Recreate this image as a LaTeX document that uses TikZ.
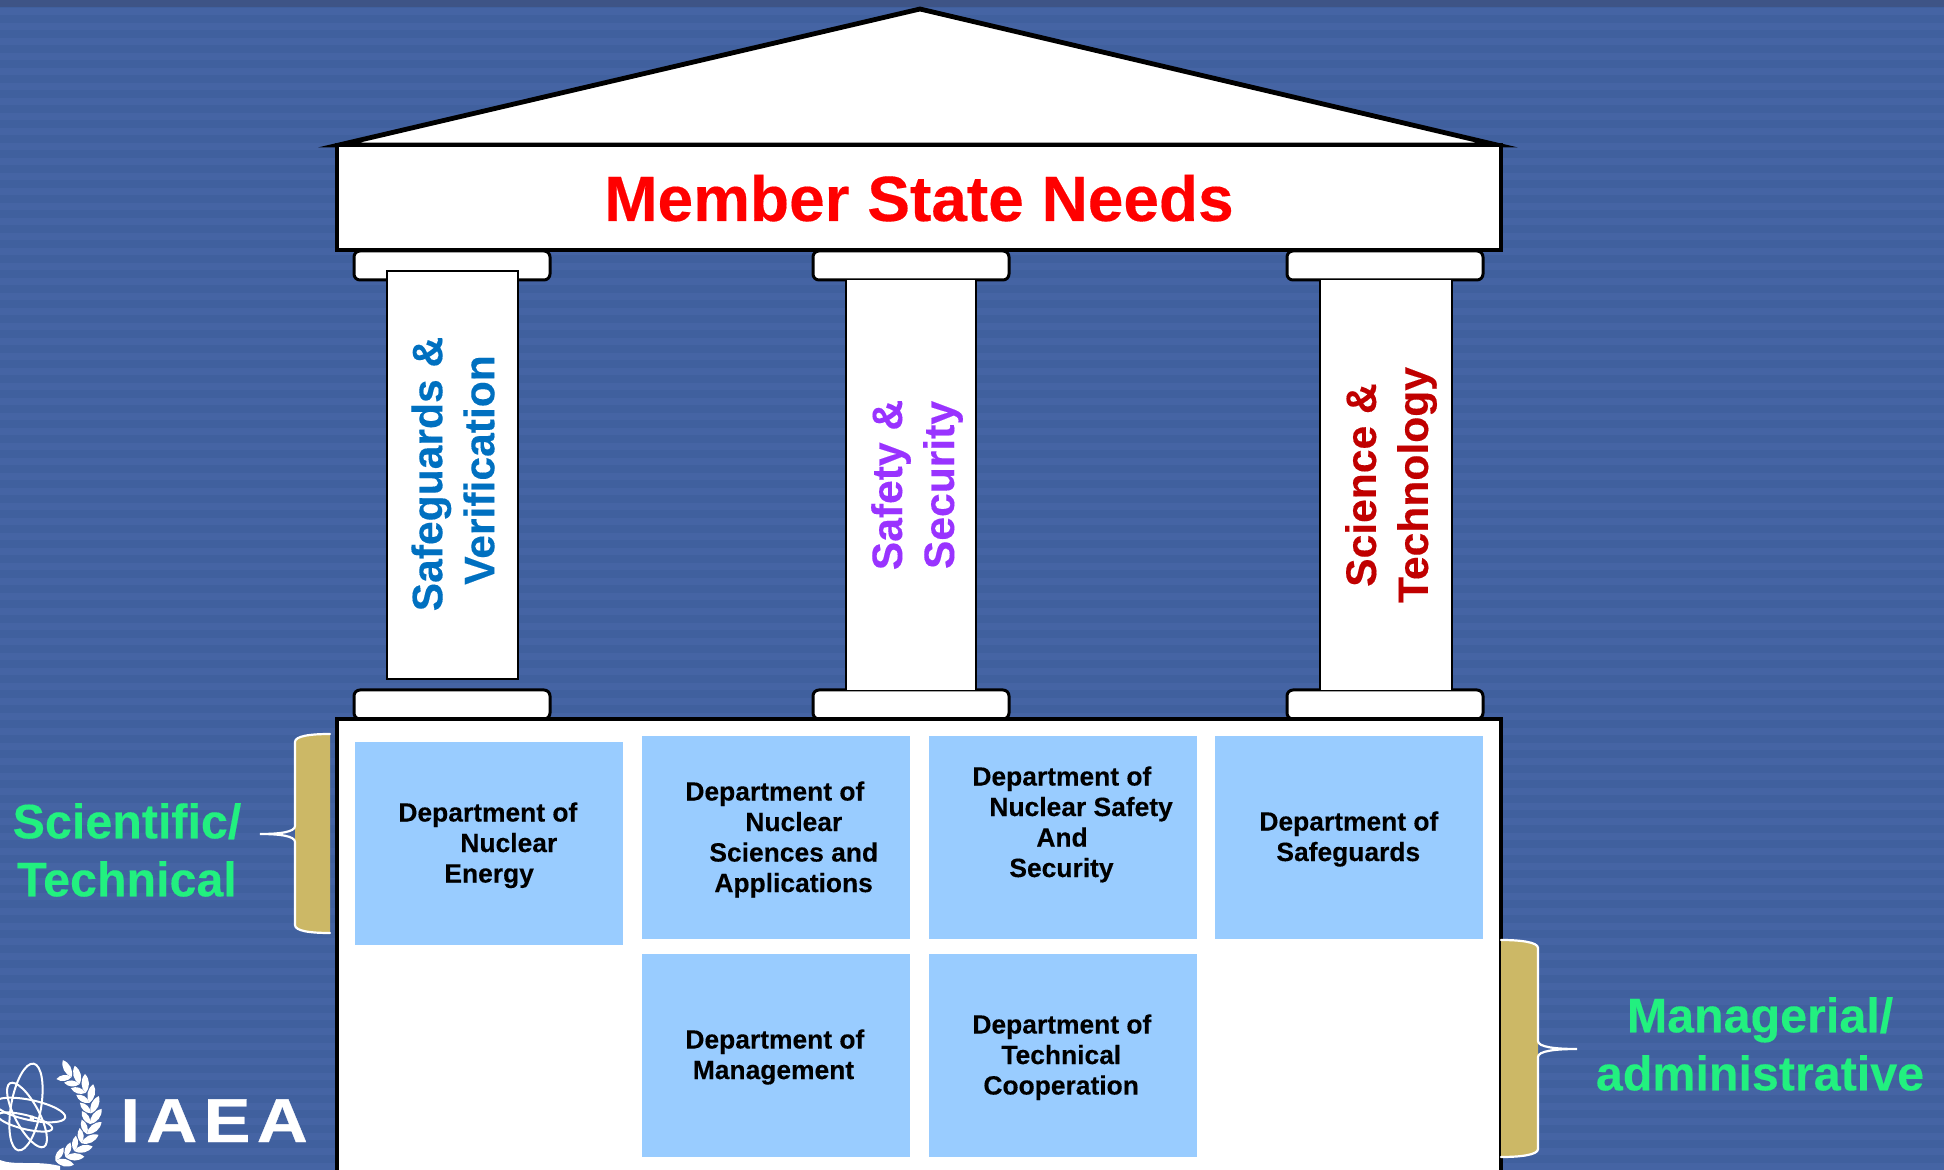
\documentclass[tikz,border=0pt]{standalone}
\usepackage{fontspec}
\setmainfont[BoldFeatures={FakeBold=0.25}]{Liberation Sans}
\newfontfamily\logofont[LetterSpace=10,FakeStretch=1.14,BoldFeatures={FakeBold=0.5}]{Liberation Sans}
\definecolor{bgbase}{RGB}{64,96,158}
\definecolor{bgband}{RGB}{69,100,164}
\definecolor{bgtop}{RGB}{62,84,134}
\definecolor{deptblue}{RGB}{153,204,255}
\definecolor{bracetan}{RGB}{204,184,102}
\definecolor{labelgreen}{RGB}{34,240,127}
\definecolor{safeblue}{RGB}{0,112,192}
\definecolor{safepurple}{RGB}{153,51,255}
\definecolor{sciencered}{RGB}{192,0,0}
\tikzset{
  x=0.5pt,y=-0.5pt,
  capital/.style={draw=black,line width=1.5pt,fill=white,rounded corners=3pt},
  pillarbody/.style={fill=white},
  frameline/.style={draw=black,line width=2.4pt},
  pillarline/.style={draw=black,line width=1.4pt},
  deptbox/.style={fill=deptblue,draw=none},
  depttext/.style={anchor=north west,inner sep=0pt,align=left,font=\bfseries\fontsize{13.2}{15.25}\selectfont,text=black},
  pillartext/.style={rotate=90,inner sep=0pt,align=center,font=\bfseries\fontsize{21.3}{26}\selectfont},
  sidelabel/.style={inner sep=0pt,align=center,text=labelgreen,font=\bfseries\fontsize{24.2}{29}\selectfont},
  bracefill/.style={fill=bracetan,draw=none},
  braceline/.style={draw=white,line width=1.1pt,line cap=round},
  orbit/.style={draw=white,line width=1pt},
  leaf/.style={fill=white,draw=none}
}
\begin{document}
\begin{tikzpicture}
\useasboundingbox (0,0) rectangle (1944,1170);
\clip (0,0) rectangle (1944,1170);
% background
\fill[bgbase] (0,0) rectangle (1944,1170);
\foreach \yy in {8,23,...,1170} {\fill[bgband] (0,\yy) rectangle (1944,\yy+7);}
\fill[bgtop] (0,0) rectangle (1944,7);
% roof
\draw[fill=white,frameline,line join=miter] (920,9) -- (1497,145) -- (339,145) -- cycle;
% capitals
\foreach \xa in {354,813,1287} {
  \draw[capital] (\xa,251) rectangle (\xa+196,280);
  \draw[capital] (\xa,690) rectangle (\xa+196,719);
}
% entablature
\draw[fill=white,frameline] (337,145) rectangle (1501,250);
\node[inner sep=0pt,anchor=base,text=red,font=\bfseries\fontsize{32}{38}\selectfont] (needs) at (919,221) {Member State Needs};
% pillars
\draw[fill=white,pillarline] (387,271) rectangle (518,679);
\fill[pillarbody] (846,280) rectangle (976,690);
\draw[pillarline] (846,280) -- (846,690) (976,280) -- (976,690);
\fill[pillarbody] (1320,280) rectangle (1452,690);
\draw[pillarline] (1320,280) -- (1320,690) (1452,280) -- (1452,690);
\node[pillartext,text=safeblue] (p1) at (453,474) {Safeguards \&\\\hspace*{4pt}Verification};
\node[pillartext,text=safepurple] (p2) at (917,485) {Safety \&\\Security};
\node[pillartext,text=sciencered] (p3) at (1391,485) {Science \&\\Technology};
% base
\draw[fill=white,frameline] (337,719) rectangle (1501,1185);
% department boxes
\fill[deptbox] (355,742) rectangle (623,945);
\fill[deptbox] (642,736) rectangle (910,939);
\fill[deptbox] (929,736) rectangle (1197,939);
\fill[deptbox] (1215,736) rectangle (1483,939);
\fill[deptbox] (642,954) rectangle (910,1157);
\fill[deptbox] (929,954) rectangle (1197,1157);
\node[depttext] (d1) at (398,802) {Department of\\\hspace*{31pt}Nuclear\\\hspace*{23pt}Energy};
\node[depttext] (d2) at (685,781) {Department of\\\hspace*{30pt}Nuclear\\\hspace*{12pt}Sciences and\\\hspace*{14.5pt}Applications};
\node[depttext] (d3) at (972,766) {Department of\\\hspace*{8.5pt}Nuclear Safety\\\hspace*{32pt}And\\\hspace*{18.5pt}Security};
\node[depttext] (d4) at (1259,811) {Department of\\\hspace*{8.5pt}Safeguards};
\node[depttext] (d5) at (685,1029) {Department of\\\hspace*{3.7pt}Management};
\node[depttext] (d6) at (972,1014) {Department of\\\hspace*{14.5pt}Technical\\\hspace*{5.5pt}Cooperation};
% braces
\fill[bracefill] (330,734) .. controls (310,734) and (295,736) .. (295,742) -- (295,925) .. controls (295,931) and (310,933) .. (330,933) -- cycle;
\draw[braceline] (330,734) .. controls (310,734) and (295,736) .. (295,742) -- (295,826) .. controls (295,832) and (280,834) .. (260,834) .. controls (280,834) and (295,836) .. (295,842) -- (295,925) .. controls (295,931) and (310,933) .. (330,933);
\fill[bracefill] (1501,940) .. controls (1520,940) and (1538,942) .. (1538,948) -- (1538,1149) .. controls (1538,1155) and (1520,1157) .. (1501,1157) -- cycle;
\draw[braceline] (1501,940) .. controls (1520,940) and (1538,942) .. (1538,948) -- (1538,1041) .. controls (1538,1047) and (1555,1049) .. (1577,1049) .. controls (1555,1049) and (1538,1051) .. (1538,1057) -- (1538,1149) .. controls (1538,1155) and (1520,1157) .. (1501,1157);
\node[sidelabel] (sci) at (127,850) {Scientific/\\Technical};
\node[sidelabel] (man) at (1760,1044) {Managerial/\\administrative};
% logo
\draw[orbit] [rotate around={80:(26,1107)}] (26,1107) ellipse [x radius=44,y radius=15];
\draw[orbit] [rotate around={-62:(27,1115)}] (27,1115) ellipse [x radius=36,y radius=12];
\draw[orbit] [rotate around={-12:(30,1110)}] (30,1110) ellipse [x radius=36,y radius=10];
\draw[orbit] [rotate around={-14:(25,1122)}] (25,1122) ellipse [x radius=28,y radius=7];
\fill[white] (32,1118) circle [radius=2.5];
\foreach \a in {-54,-41,...,86} {
  \pgfmathsetmacro{\bx}{44+47*cos(\a)}
  \pgfmathsetmacro{\by}{1115+47*sin(\a)}
  \pgfmathsetmacro{\ox}{44+58*cos(\a-17)}
  \pgfmathsetmacro{\oy}{1115+58*sin(\a-17)}
  \pgfmathsetmacro{\ix}{44+38*cos(\a-17)}
  \pgfmathsetmacro{\iy}{1115+38*sin(\a-17)}
  \fill[leaf] (\bx,\by) to[bend left=42] (\ox,\oy) to[bend left=42] (\bx,\by);
  \fill[leaf] (\bx,\by) to[bend left=42] (\ix,\iy) to[bend left=42] (\bx,\by);
}
\fill[white] (0,1160) .. controls (15,1166) and (35,1160) .. (60,1166) -- (60,1172) -- (0,1172) -- cycle;
\node[inner sep=0pt,anchor=base west,text=white,font=\logofont\bfseries\fontsize{31}{36}\selectfont] (iaea) at (120,1142) {IAEA};
\end{tikzpicture}
\end{document}
